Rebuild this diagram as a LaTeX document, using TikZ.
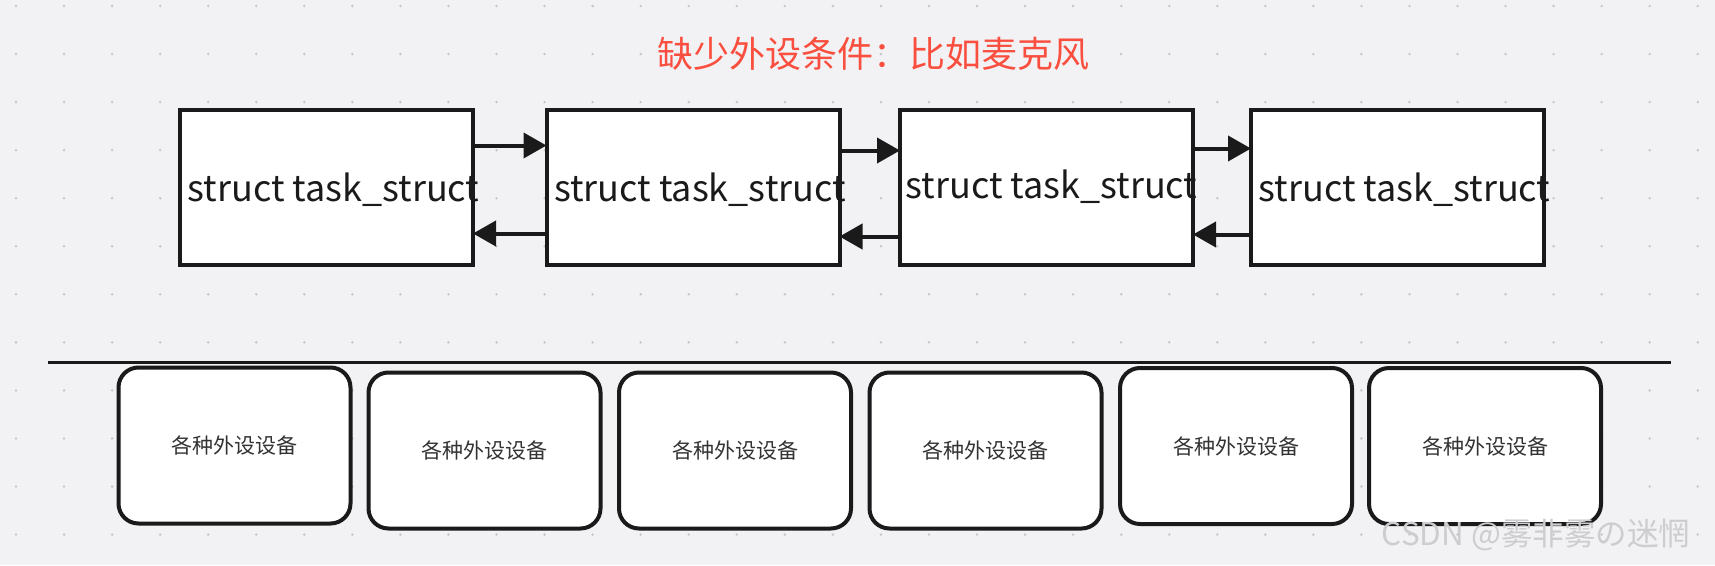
\documentclass[tikz,border=0pt]{standalone}
\usepackage{fontspec}
\setmainfont{Noto Sans CJK SC}
\usetikzlibrary{arrows.meta}
\definecolor{bg}{RGB}{242,242,245}
\definecolor{dotc}{RGB}{200,200,204}
\definecolor{ink}{RGB}{26,26,26}
\definecolor{titlered}{RGB}{250,78,62}
\definecolor{devtext}{RGB}{51,51,51}
\definecolor{wm}{RGB}{205,205,208}
\tikzset{
  taskbox/.style={draw=ink, line width=4pt, fill=white, rectangle, inner sep=0pt,
    minimum width=293pt, minimum height=155pt},
  tasklabel/.style={inner sep=0pt, font=\fontsize{36}{40}\selectfont, text=ink},
  devbox/.style={draw=ink, line width=4pt, fill=white, rectangle, rounded corners=20pt,
    inner sep=0pt, minimum width=232pt, minimum height=156pt,
    font=\fontsize{21}{25}\selectfont, text=devtext},
  arr/.style={draw=ink, line width=4pt, -{Triangle[length=23pt,width=25pt]}, shorten >=-2pt},
}
\begin{document}
\begin{tikzpicture}[x=1pt,y=-1pt]
\useasboundingbox (0,0) rectangle (1715,565);
\fill[bg] (0,0) rectangle (1715,565);
\foreach \i in {0,...,35} {
  \foreach \j in {0,...,11} {
    \fill[dotc] (16+48.05*\i, 6+48.05*\j) circle (1.4pt);
  }
}
\node[font=\fontsize{36}{40}\selectfont, text=titlered] (title) at (873,54) {缺少外设条件：比如麦克风};

\node[taskbox] (t1) at (326.5,187.5) {};
\node[taskbox] (t2) at (693,187.5) {};
\node[taskbox] (t3) at (1046.5,187.5) {};
\node[taskbox] (t4) at (1397.5,187.5) {};
\node[tasklabel] (l1) at ([xshift=7pt,yshift=-2pt]t1.center) {struct task\_struct};
\node[tasklabel] (l2) at ([xshift=7pt,yshift=-2pt]t2.center) {struct task\_struct};
\node[tasklabel] (l3) at ([xshift=5pt,yshift=1pt]t3.center) {struct task\_struct};
\node[tasklabel] (l4) at ([xshift=7pt,yshift=-2pt]t4.center) {struct task\_struct};

\draw[arr] ([yshift=42pt]t1.east) -- ([yshift=42pt]t2.west);
\draw[arr] ([yshift=-46pt]t2.west) -- ([yshift=-46pt]t1.east);
\draw[arr] ([yshift=37pt]t2.east) -- ([yshift=37pt]t3.west);
\draw[arr] ([yshift=-49pt]t3.west) -- ([yshift=-49pt]t2.east);
\draw[arr] ([yshift=39pt]t3.east) -- ([yshift=39pt]t4.west);
\draw[arr] ([yshift=-47pt]t4.west) -- ([yshift=-47pt]t3.east);

\coordinate (hl) at (48,362);
\coordinate (hr) at (1671,362);
\draw[ink, line width=3pt] (hl) -- (hr);

\node[devbox] (d1) at (234.5,445.5) {各种外设设备};
\node[devbox] (d2) at (484.5,450.5) {各种外设设备};
\node[devbox] (d3) at (735,450.5) {各种外设设备};
\node[devbox] (d4) at (985.5,450.5) {各种外设设备};
\node[devbox] (d5) at (1236,446) {各种外设设备};
\node[devbox] (d6) at (1485,446) {各种外设设备};

\node[font=\fontsize{31.5}{35}\selectfont, text=wm] (wmk) at (1536,535) {CSDN @雾非雾の迷惘};
\end{tikzpicture}
\end{document}
